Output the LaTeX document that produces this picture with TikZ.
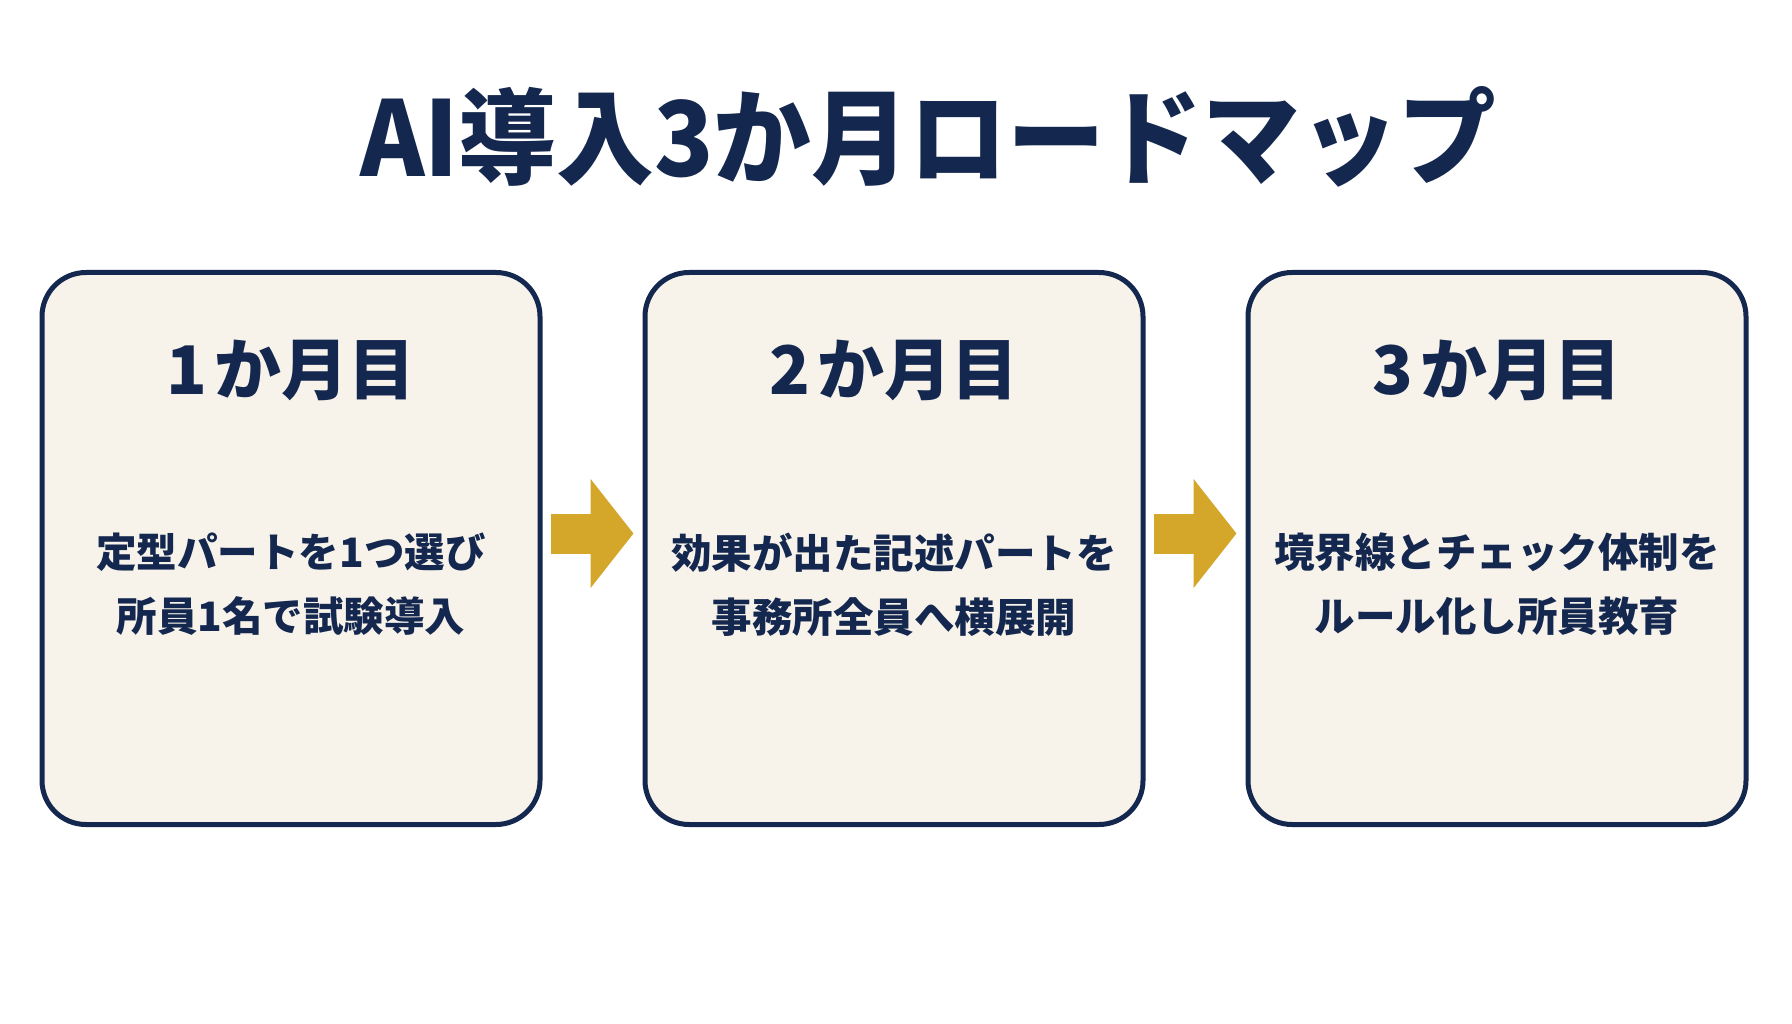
\documentclass[tikz,border=0pt]{standalone}
\usepackage{fontspec}
\setmainfont{Noto Sans CJK JP}
\usetikzlibrary{arrows.meta}
\definecolor{navy}{HTML}{14274E}
\definecolor{cream}{HTML}{F7F3EB}
\definecolor{gold}{HTML}{D4A62A}

\begin{document}
\begin{tikzpicture}[x=1pt, y=-1pt, node distance=603pt,
  month/.style={shape=rectangle, draw=navy, fill=cream, line width=5pt, rounded corners=44pt, minimum width=498pt, minimum height=552pt},
  head/.style={text=navy, font=\bfseries\fontsize{67}{67}\selectfont},
  body/.style={text=navy, align=center, font=\bfseries\fontsize{40.5}{64}\selectfont},
  goarrow/.style={draw=gold, line width=40pt, -{Triangle[width=107pt, length=43pt]}}]
\fill [white] (0,0) rectangle (1792,1024);
\useasboundingbox (0,0) rectangle (1792,1024);

\node [text=navy, font=\bfseries\fontsize{104}{104}\selectfont, xscale=0.94, transform shape] (T0) at (928,137) {AI導入3か月ロードマップ};

\node [month] (M1) at (291,548.5) {};
\node [month, right of=M1] (M2) {};
\node [month, right of=M2] (M3) {};

\node [head, above of=M1, node distance=178pt] (H1) {1\hspace{8pt}か月目};
\node [head, above of=M2, node distance=178pt] (H2) {2\hspace{8pt}か月目};
\node [head, above of=M3, node distance=178pt] (H3) {3\hspace{8pt}か月目};

\node [body, below of=M1, node distance=36pt] (B1) {定型パートを1つ選び\\所員1名で試験導入};
\node [body, below of=M2, node distance=36pt] (B2) {効果が出た記述パートを\\事務所全員へ横展開};
\node [body, below of=M3, node distance=36pt] (B3) {境界線とチェック体制を\\ルール化し所員教育};

\draw [goarrow] ([xshift=8pt, yshift=15pt]M1.east) -- ([xshift=-9pt, yshift=15pt]M2.west);
\draw [goarrow] ([xshift=8pt, yshift=15pt]M2.east) -- ([xshift=-9pt, yshift=15pt]M3.west);
\end{tikzpicture}
\end{document}
